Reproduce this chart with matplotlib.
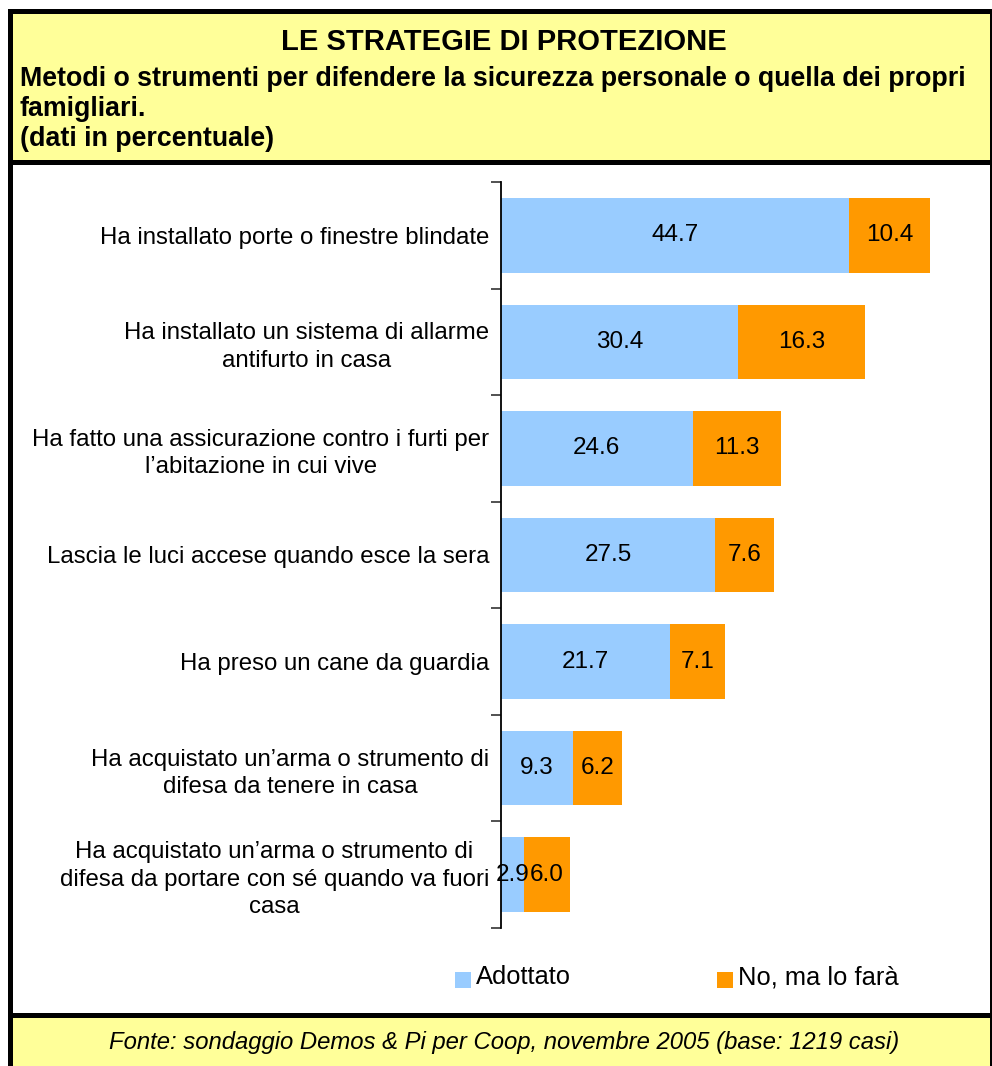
import matplotlib.pyplot as plt
from matplotlib.patches import Rectangle
from matplotlib.ticker import FixedLocator

plt.rcParams['font.family'] = ['Liberation Sans', 'DejaVu Sans']

categorie = [
    "Ha installato porte o finestre blindate",
    "Ha installato un sistema di allarme\nantifurto in casa",
    "Ha fatto una assicurazione contro i furti per\nl\u2019abitazione in cui vive",
    "Lascia le luci accese quando esce la sera",
    "Ha preso un cane da guardia",
    "Ha acquistato un\u2019arma o strumento di\ndifesa da tenere in casa",
    "Ha acquistato un\u2019arma o strumento di\ndifesa da portare con s\u00e9 quando va fuori\ncasa",
]
adottato = [44.7, 30.4, 24.6, 27.5, 21.7, 9.3, 2.9]
lo_fara = [10.4, 16.3, 11.3, 7.6, 7.1, 6.2, 6.0]
serie = ["Adottato", "No, ma lo far\u00e0"]
c_blu = "#99CCFF"
c_ara = "#FF9900"
giallo = "#FFFF99"

W, H = 992, 1066
fig = plt.figure(figsize=(W / 100, H / 100), dpi=100)

def px(x0, y0, x1, y1, z=-5, **kw):
    # rettangolo in pixel (origine in alto a sinistra)
    fig.patches.append(Rectangle((x0 / W, 1 - y1 / H), (x1 - x0) / W, (y1 - y0) / H,
                                 transform=fig.transFigure, zorder=z, **kw))

# cornici
px(8, 9, 1000, 1075, facecolor="black", edgecolor="none")
px(13, 14, 990, 160, facecolor=giallo, edgecolor="none")
px(13, 165, 990, 1013, facecolor="white", edgecolor="none")
px(13, 1018, 990, 1075, facecolor=giallo, edgecolor="none")

fig.text(504 / W, 1 - 42 / H, "LE STRATEGIE DI PROTEZIONE", ha="center", va="center",
         fontsize=21, fontweight="bold")
fig.text(20 / W, 1 - 66 / H,
         "Metodi o strumenti per difendere la sicurezza personale o quella dei propri\nfamigliari.\n(dati in percentuale)",
         ha="left", va="top", fontsize=19.3, fontweight="bold", linespacing=1.2)
fig.text(504 / W, 1 - 1043 / H,
         "Fonte: sondaggio Demos & Pi per Coop, novembre 2005 (base: 1219 casi)",
         ha="center", va="center", fontsize=17.2, style="italic")

# area grafico
x0, x1 = 501, 501 + 60 * 7.79
y0, y1 = 182, 928
ax = fig.add_axes([x0 / W, 1 - y1 / H, (x1 - x0) / W, (y1 - y0) / H])
ax.set_xlim(0, 60)
n = len(categorie)
ax.set_ylim(n - 0.5, -0.5)
pos = list(range(n))
ax.barh(pos, adottato, height=0.70, color=c_blu, label=serie[0])
ax.barh(pos, lo_fara, left=adottato, height=0.70, color=c_ara, label=serie[1])
for i in range(n):
    ax.text(adottato[i] / 2, i, f"{adottato[i]:.1f}", ha="center", va="center", fontsize=17.5)
    ax.text(adottato[i] + lo_fara[i] / 2, i, f"{lo_fara[i]:.1f}", ha="center", va="center", fontsize=17.5)

ax.set_yticks(pos)
ax.set_yticklabels(categorie, fontsize=17.3, multialignment="center", linespacing=1.32)
ax.tick_params(axis="y", which="major", length=0, pad=8.5)
ax.yaxis.set_minor_locator(FixedLocator([i - 0.5 for i in range(n + 1)]))
ax.tick_params(axis="y", which="minor", length=7, width=1.2, color="#333333")
ax.set_xticks([])
for s in ["top", "right", "bottom"]:
    ax.spines[s].set_visible(False)
ax.spines["left"].set_linewidth(1.3)
ax.set_facecolor("none")

# legenda
px(455, 972, 471, 988, z=2, facecolor=c_blu, edgecolor="none")
fig.text(476 / W, 1 - 977 / H, serie[0], ha="left", va="center", fontsize=18.4)
px(717, 972, 733, 988, z=2, facecolor=c_ara, edgecolor="none")
fig.text(738 / W, 1 - 977 / H, serie[1], ha="left", va="center", fontsize=18.4)

fig.savefig("out.png", dpi=100)
